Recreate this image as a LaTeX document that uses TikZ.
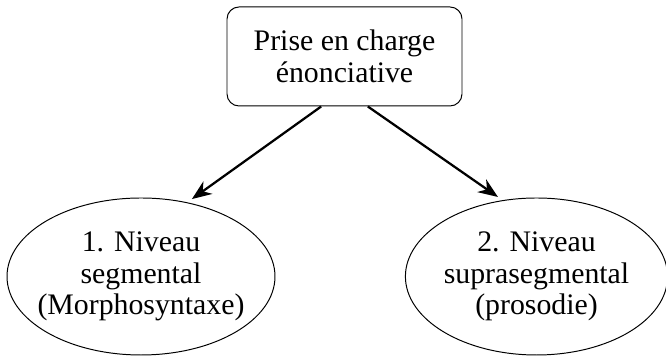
\documentclass[tikz,border=0pt]{standalone}
\usepackage{fontspec}
\setmainfont{Liberation Serif}
\usetikzlibrary{shapes.geometric,arrows.meta}

\begin{document}
\begin{tikzpicture}[
  topbox/.style={draw=black,rounded corners=0.3cm,minimum width=5.875cm,minimum height=2.475cm,align=center,line width=0.7pt,font=\fontsize{21.2}{23}\selectfont},
  level/.style={draw=black,ellipse,inner sep=0pt,minimum height=3.925cm,align=center,line width=0.7pt,font=\fontsize{21.2}{22.5}\selectfont},
  fleche/.style={draw=black,line width=1.6pt,-{Stealth[length=14pt,width=11pt]},shorten >=4pt}
]

\useasboundingbox (0,0) rectangle (16.65,8.9);

%prise en charge
\node[topbox] (prise) at (8.6125,7.4875) {Prise en charge\\énonciative};

%niveaux
\node[level,minimum width=6.7cm,inner xsep=-0.26cm] (seg) at (3.525,1.9875) {1. Niveau\\segmental\\(Morphosyntaxe)};
\node[level,minimum width=6.475cm] (supra) at (13.4125,1.9875) {2. Niveau\\suprasegmental\\(prosodie)};

%fleches
\path[fleche] (prise.-115) -- (seg.58);
\path[fleche] (prise.-65) -- (supra.114);

\end{tikzpicture}
\end{document}
